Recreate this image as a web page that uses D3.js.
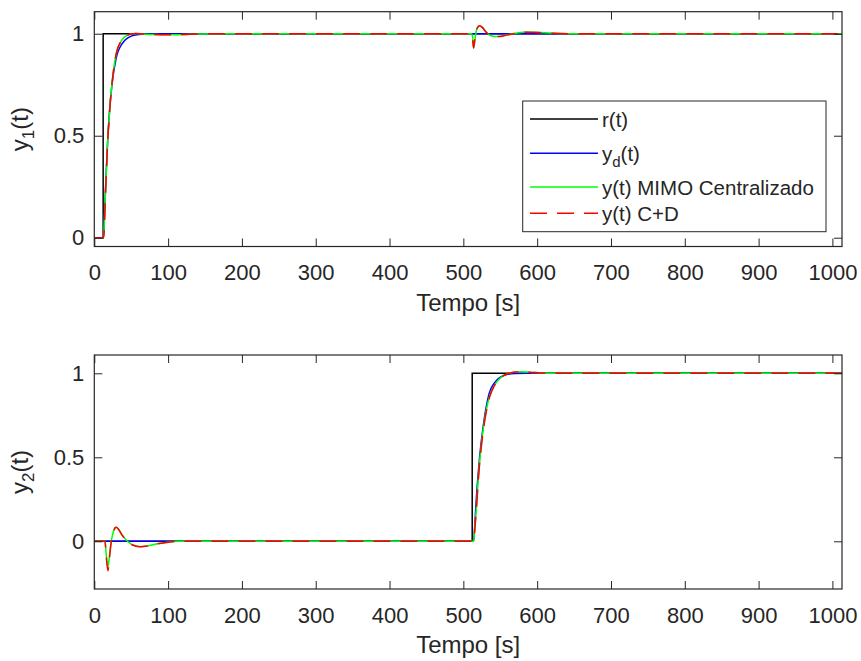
<!DOCTYPE html>
<html>
<head>
<meta charset="utf-8">
<script src="https://cdn.jsdelivr.net/npm/d3@7"></script>
<style>
body{margin:0;background:#fff;}
</style>
</head>
<body>
<svg id="board" width="861" height="661"></svg>
<script>
board = d3.select('#board')

font = '"Liberation Sans", Arial, Helvetica, sans-serif'

x_lim = [0, 1013]
x_ticks = [0, 100, 200, 300, 400, 500, 600, 700, 800, 900, 1000]
y_ticks = [0, 0.5, 1]
y1_lim = [-0.043, 1.108]
y2_lim = [-0.284, 1.109]

series_names = ['r(t)', 'y_d(t)', 'y(t) MIMO Centralizado', 'y(t) C+D']
series_colors = ['#000000', '#0000ff', '#00ff00', '#ff0000']

// saida 1 : [t, valor]
y1_ref = [[0, 0], [12, 0], [12, 1], [1013, 1]]
y1_des = [[0, 0], [12.5, 0], [13.5, 0.08], [15, 0.22], [16.5, 0.35], [18, 0.47], [20, 0.59], [22, 0.68],
          [25, 0.78], [28, 0.85], [31, 0.9], [35, 0.935], [40, 0.962], [45, 0.978], [50, 0.988],
          [56, 0.994], [65, 0.998], [80, 1], [1013, 1]]
y1_mimo = [[0, 0], [12.5, 0], [13.5, 0.07], [15, 0.21], [16.5, 0.34], [18, 0.46], [20, 0.58], [22, 0.68],
           [25, 0.79], [28, 0.87], [31, 0.92], [35, 0.955], [40, 0.98], [45, 0.993], [50, 0.999],
           [56, 1.001], [65, 0.999], [80, 0.996], [100, 0.995], [130, 0.997], [160, 1], [511, 1],
           [512.5, 0.985], [514, 0.93], [515.5, 0.965], [518, 1.02], [522, 1.038], [526, 1.03],
           [530, 1.012], [535, 0.995], [540, 0.988], [546, 0.986], [555, 0.991], [565, 0.999],
           [575, 1.005], [585, 1.008], [600, 1.007], [620, 1.003], [645, 1], [1013, 1]]
y1_cd = [[0, 0], [12.5, 0], [13.7, 0.06], [15, 0.2], [16.5, 0.33], [18, 0.46], [20, 0.58], [22, 0.68],
         [25, 0.79], [28, 0.87], [31, 0.92], [35, 0.955], [40, 0.98], [45, 0.993], [50, 0.999],
         [56, 1.001], [65, 0.999], [80, 0.996], [100, 0.995], [130, 0.997], [160, 1], [511, 1],
         [512.3, 0.985], [513.8, 0.93], [515.5, 0.97], [518, 1.022], [522, 1.039], [526, 1.03],
         [530, 1.011], [535, 0.994], [540, 0.987], [546, 0.986], [555, 0.99], [565, 0.998],
         [575, 1.004], [585, 1.007], [600, 1.006], [620, 1.002], [645, 1], [1013, 1]]

// saida 2
y2_ref = [[0, 0], [512, 0], [512, 1], [1013, 1]]
y2_des = [[0, 0], [514, 0], [515.5, 0.1], [517.5, 0.25], [520, 0.4], [522, 0.5], [525, 0.62], [528, 0.72],
          [531, 0.8], [535, 0.88], [540, 0.93], [546, 0.963], [552, 0.982], [560, 0.994], [570, 0.999],
          [585, 1], [1013, 1]]
y2_mimo = [[0, 0], [14.5, 0], [16, -0.07], [18.5, -0.155], [20, -0.11], [23, 0], [26, 0.06], [29.5, 0.083],
           [33, 0.07], [38, 0.035], [45, 0], [52, -0.022], [62, -0.032], [72, -0.028], [85, -0.015],
           [100, -0.005], [115, 0], [514, 0], [515.5, 0.08], [518, 0.22], [520, 0.36], [522, 0.47],
           [525, 0.6], [528, 0.7], [531, 0.78], [536, 0.87], [541, 0.92], [547, 0.958], [553, 0.982],
           [560, 0.998], [568, 1.007], [577, 1.01], [590, 1.007], [605, 1.002], [620, 1], [1013, 1]]
y2_cd = [[0, 0], [14.5, 0], [16, -0.08], [18.5, -0.175], [20, -0.12], [23, 0], [26, 0.06], [29.5, 0.083],
         [33, 0.07], [38, 0.035], [45, 0], [52, -0.022], [62, -0.032], [72, -0.028], [85, -0.015],
         [100, -0.005], [115, 0], [514, 0], [515.5, 0.07], [518, 0.21], [520, 0.35], [522, 0.46],
         [525, 0.59], [528, 0.69], [531, 0.77], [536, 0.865], [541, 0.918], [547, 0.957], [553, 0.981],
         [560, 0.997], [568, 1.006], [577, 1.01], [590, 1.007], [605, 1.002], [620, 1], [1013, 1]]

left = 94.3
right = 842

draw_panel(11.7, 246.5, y1_lim, [y1_ref, y1_des, y1_mimo, y1_cd], '1', 'c1')
draw_panel(355, 589, y2_lim, [y2_ref, y2_des, y2_mimo, y2_cd], '2', 'c2')
draw_legend(522.7, 101, 826, 231.7)

function draw_panel(top, bottom, ylim, data, sub, clip_id){
    x = d3.scaleLinear().domain(x_lim).range([left, right])
    y = d3.scaleLinear().domain(ylim).range([bottom, top])
    g = board.append('g')

    g.append('clipPath').attr('id', clip_id)
        .append('rect')
        .attr('x', left).attr('y', top)
        .attr('width', right - left).attr('height', bottom - top)

    plot = g.append('g').attr('clip-path', 'url(#' + clip_id + ')')
    data.forEach(function(d, i){
        curve = i === 0 ? d3.curveLinear : d3.curveMonotoneX
        line = d3.line().x(p => x(p[0])).y(p => y(p[1])).curve(curve)
        path = plot.append('path')
            .attr('d', line(d))
            .attr('fill', 'none')
            .attr('stroke', series_colors[i])
            .attr('stroke-width', 1.5)
        if(i === 3){
            path.attr('stroke-dasharray', '17,10')
        }
    })

    // eixos com ticks para dentro
    ax_b = g.append('g').attr('transform', 'translate(0,' + bottom + ')')
        .call(d3.axisBottom(x).tickValues(x_ticks).tickSize(-8).tickPadding(18).tickFormat(d3.format('d')))
    ax_t = g.append('g').attr('transform', 'translate(0,' + top + ')')
        .call(d3.axisTop(x).tickValues(x_ticks).tickSize(-8).tickFormat(''))
    ax_l = g.append('g').attr('transform', 'translate(' + left + ',0)')
        .call(d3.axisLeft(y).tickValues(y_ticks).tickSize(-8).tickPadding(10).tickFormat(d3.format('')))
    ax_r = g.append('g').attr('transform', 'translate(' + right + ',0)')
        .call(d3.axisRight(y).tickValues(y_ticks).tickSize(-8).tickFormat(''))

    ;[ax_b, ax_t, ax_l, ax_r].forEach(function(a){
        a.attr('font-family', font).attr('font-size', 22).attr('color', '#262626')
        a.select('.domain').remove()
        a.selectAll('line').attr('stroke-width', 1)
    })

    g.append('rect')
        .attr('x', left).attr('y', top)
        .attr('width', right - left).attr('height', bottom - top)
        .attr('fill', 'none')
        .attr('stroke', '#262626')
        .attr('stroke-width', 1.2)

    g.append('text')
        .attr('x', (left + right) / 2)
        .attr('y', bottom + 64)
        .attr('text-anchor', 'middle')
        .attr('font-family', font)
        .attr('font-size', 24)
        .attr('fill', '#262626')
        .text('Tempo [s]')

    yl = g.append('text')
        .attr('transform', 'translate(28,' + (top + bottom) / 2 + ') rotate(-90)')
        .attr('text-anchor', 'middle')
        .attr('font-family', font)
        .attr('font-size', 24)
        .attr('fill', '#262626')
    yl.append('tspan').text('y')
    yl.append('tspan').attr('font-size', 17).attr('dy', 6).text(sub)
    yl.append('tspan').attr('dy', -6).text('(t)')
}

function draw_legend(x0, y0, x1, y1){
    lg = board.append('g')
    lg.append('rect')
        .attr('x', x0).attr('y', y0)
        .attr('width', x1 - x0).attr('height', y1 - y0)
        .attr('fill', '#ffffff')
        .attr('stroke', '#262626')
        .attr('stroke-width', 1)

    rows = [119, 153.3, 187, 213.3]
    series_names.forEach(function(name, i){
        l = lg.append('line')
            .attr('x1', 530).attr('x2', 598)
            .attr('y1', rows[i]).attr('y2', rows[i])
            .attr('stroke', series_colors[i])
            .attr('stroke-width', 1.5)
        if(i === 3){
            l.attr('stroke-dasharray', '17,10')
        }
        t = lg.append('text')
            .attr('x', 602)
            .attr('y', rows[i] + 8)
            .attr('font-family', font)
            .attr('font-size', 20.5)
            .attr('fill', '#262626')
        if(name.indexOf('_d') >= 0){
            t.append('tspan').text('y')
            t.append('tspan').attr('font-size', 15).attr('dy', 6).text('d')
            t.append('tspan').attr('dy', -6).text('(t)')
        } else {
            t.text(name)
        }
    })
}
</script>
</body>
</html>
